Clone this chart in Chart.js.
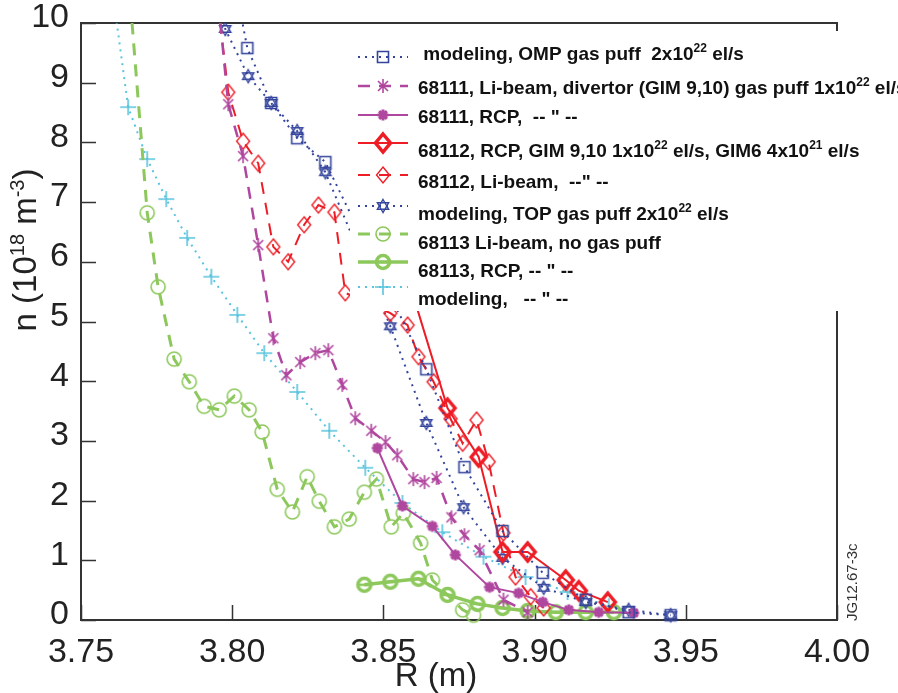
<!DOCTYPE html>
<html>
<head>
<meta charset="utf-8">
<script src="https://cdn.jsdelivr.net/npm/chart.js@4.4.0/dist/chart.umd.min.js"></script>
<style>
  body { margin: 0; background: #fff; }
  #wrap { width: 898px; height: 693px; }
</style>
</head>
<body>
<div id="wrap"><canvas id="chart" width="898" height="693"></canvas></div>
<script>
// R in m, n in 1e18 m^-3
const ompR = [3.8013, 3.8050, 3.8129, 3.8215, 3.8308, 3.8642, 3.8768, 3.8894, 3.9027, 3.9169, 3.9311, 3.9450];
const ompN = [10.55, 9.58, 8.66, 8.07, 7.67, 4.20, 2.56, 1.49, 0.79, 0.34, 0.13, 0.08];

const li111R = [3.7947, 3.7987, 3.8036, 3.8086, 3.8136, 3.8179, 3.8225, 3.8275, 3.8318, 3.8364, 3.8407,
  3.8460, 3.8507, 3.8546, 3.8599, 3.8636, 3.8676, 3.8725, 3.8768, 3.8818, 3.8897, 3.8977];
const li111N = [10.72, 8.64, 7.77, 6.28, 4.72, 4.10, 4.32, 4.47, 4.52, 3.94, 3.38,
  3.17, 2.98, 2.76, 2.36, 2.31, 2.38, 1.72, 1.42, 1.17, 0.34, 0.13];

const rcp111R = [3.8480, 3.8563, 3.8662, 3.8738, 3.8851, 3.8947, 3.9027, 3.9113, 3.9212, 3.9328];
const rcp111N = [2.88, 1.91, 1.57, 1.09, 0.55, 0.45, 0.30, 0.17, 0.13, 0.12];

const rcp112R = [3.8573, 3.8712, 3.8815, 3.8894, 3.8977, 3.9103, 3.9146, 3.9242];
const rcp112N = [5.86, 3.55, 2.73, 1.14, 1.14, 0.67, 0.49, 0.30];

const li112R = [3.7944, 3.7987, 3.8036, 3.8086, 3.8136, 3.8185, 3.8238, 3.8285, 3.8338, 3.8374, 3.8523,
  3.8580, 3.8616, 3.8666, 3.8722, 3.8762, 3.8808, 3.8848, 3.8897, 3.8937, 3.8987, 3.9030];
const li112N = [10.72, 8.84, 8.02, 7.65, 6.25, 6.00, 6.62, 6.95, 6.83, 5.48, 5.14,
  4.94, 4.41, 3.99, 3.37, 2.96, 3.35, 2.65, 1.46, 0.72, 0.39, 0.20];

const topR = [3.7944, 3.7977, 3.8053, 3.8129, 3.8215, 3.8308, 3.8523, 3.8642, 3.8765, 3.8894, 3.9030, 3.9169, 3.9311, 3.9450];
const topN = [10.72, 9.90, 9.11, 8.66, 8.19, 7.50, 4.92, 3.30, 1.89, 1.04, 0.54, 0.30, 0.17, 0.08];

const li113R = [3.7652, 3.7719, 3.7755, 3.7808, 3.7858, 3.7907, 3.7957, 3.8007, 3.8056, 3.8099, 3.8149, 3.8199,
  3.8248, 3.8288, 3.8338, 3.8387, 3.8437, 3.8477, 3.8526, 3.8566, 3.8623, 3.8662, 3.8762, 3.8798];
const li113N = [11.06, 6.82, 5.58, 4.37, 3.99, 3.58, 3.52, 3.75, 3.52, 3.15, 2.19, 1.81,
  2.40, 1.99, 1.56, 1.69, 2.14, 2.36, 1.56, 1.79, 1.29, 0.67, 0.17, 0.08];

const rcp113R = [3.8437, 3.8523, 3.8616, 3.8712, 3.8811, 3.8894, 3.8977, 3.9070, 3.9169, 3.9262];
const rcp113N = [0.59, 0.64, 0.69, 0.42, 0.27, 0.20, 0.15, 0.13, 0.13, 0.13];

const modR = [3.7599, 3.7656, 3.7719, 3.7782, 3.7851, 3.7931, 3.8017, 3.8106, 3.8215, 3.8321, 3.8440,
  3.8563, 3.8695, 3.8831, 3.8970, 3.9109, 3.9245];
const modN = [10.72, 8.59, 7.72, 7.05, 6.40, 5.75, 5.11, 4.47, 3.82, 3.17, 2.55,
  1.96, 1.47, 1.06, 0.72, 0.47, 0.23];

const seriesLabels = [
  " modeling, OMP gas puff  2x10^{22} el/s",
  "68111, Li-beam, divertor (GIM 9,10) gas puff 1x10^{22} el/s",
  "68111, RCP,  -- \" --",
  "68112, RCP, GIM 9,10 1x10^{22} el/s, GIM6 4x10^{21} el/s",
  "68112, Li-beam,  --\" --",
  "modeling, TOP gas puff 2x10^{22} el/s",
  "68113 Li-beam, no gas puff",
  "68113, RCP, -- \" --",
  "modeling,   -- \" --",
];

const xTickValues = [3.75, 3.80, 3.85, 3.90, 3.95, 4.00];
const yTickValues = [0, 1, 2, 3, 4, 5, 6, 7, 8, 9, 10];

const NAVY = "#34449c";
const MAGENTA = "#b0479f";
const RED = "#ee1c25";
const GREEN = "#8dc85c";
const CYAN = "#5ac3dd";
const FONT = '"Liberation Sans", Arial, sans-serif';

const toPoints = (xs, ys) => xs.map((x, i) => ({ x: x, y: ys[i] }));

// little canvases used as point styles
function makeMarker(kind, color, lw) {
  const s = 26;
  const c = document.createElement("canvas");
  c.width = s;
  c.height = s;
  const g = c.getContext("2d");
  const m = s / 2;
  g.strokeStyle = color;
  g.fillStyle = color;
  g.lineWidth = lw;
  g.lineJoin = "miter";
  g.beginPath();
  if (kind === "square") {
    g.rect(m - 5.5, m - 5.5, 11, 11);
  } else if (kind === "hexagram") {
    const r = 6.5;
    [[-90, 30, 150], [90, 210, 330]].forEach((tri) => {
      tri.forEach((a, i) => {
        const t = (a * Math.PI) / 180;
        const px = m + r * Math.cos(t);
        const py = m + r * Math.sin(t);
        if (i === 0) g.moveTo(px, py);
        else g.lineTo(px, py);
      });
      g.closePath();
    });
  } else if (kind === "xbar") {
    g.moveTo(m - 5, m - 5); g.lineTo(m + 5, m + 5);
    g.moveTo(m + 5, m - 5); g.lineTo(m - 5, m + 5);
    g.moveTo(m, m - 7); g.lineTo(m, m + 7);
  } else if (kind === "asterisk") {
    for (let k = 0; k < 4; k++) {
      const t = (k * Math.PI) / 4;
      g.moveTo(m - 5.5 * Math.cos(t), m - 5.5 * Math.sin(t));
      g.lineTo(m + 5.5 * Math.cos(t), m + 5.5 * Math.sin(t));
    }
  } else if (kind === "diamond") {
    g.moveTo(m, m - 8); g.lineTo(m + 6.5, m); g.lineTo(m, m + 8); g.lineTo(m - 6.5, m);
    g.closePath();
  } else if (kind === "bigdiamond") {
    g.moveTo(m, m - 9); g.lineTo(m + 7.5, m); g.lineTo(m, m + 9); g.lineTo(m - 7.5, m);
    g.closePath();
  } else if (kind === "circle") {
    g.arc(m, m, 7, 0, Math.PI * 2);
  } else if (kind === "circbar") {
    g.arc(m, m, 6.5, 0, Math.PI * 2);
    g.stroke();
    g.beginPath();
    g.lineWidth = 2.5;
    g.moveTo(m - 5, m); g.lineTo(m + 5, m);
  } else if (kind === "plus") {
    g.moveTo(m - 8, m); g.lineTo(m + 8, m);
    g.moveTo(m, m - 8); g.lineTo(m, m + 8);
  }
  g.stroke();
  return c;
}

const clipBox = { left: 12, top: 0, right: 12, bottom: 12 };

function series(label, xs, ys, color, width, dash, marker) {
  return {
    label: label,
    data: toPoints(xs, ys),
    showLine: true,
    borderColor: color,
    backgroundColor: color,
    borderWidth: width,
    borderDash: dash,
    borderCapStyle: "butt",
    pointStyle: marker,
    pointRadius: 7,
    tension: 0,
    clip: clipBox,
  };
}

const datasets = [
  series(seriesLabels[0], ompR, ompN, NAVY, 2, [2, 5], makeMarker("square", NAVY, 1.6)),
  series(seriesLabels[1], li111R, li111N, MAGENTA, 2.5, [12, 9], makeMarker("xbar", MAGENTA, 1.6)),
  series(seriesLabels[2], rcp111R, rcp111N, MAGENTA, 2, [], makeMarker("asterisk", MAGENTA, 3)),
  series(seriesLabels[3], rcp112R, rcp112N, RED, 2, [], makeMarker("bigdiamond", RED, 3.5)),
  series(seriesLabels[4], li112R, li112N, RED, 2, [12, 9], makeMarker("diamond", RED, 1.4)),
  series(seriesLabels[5], topR, topN, NAVY, 2, [2, 5], makeMarker("hexagram", NAVY, 1.4)),
  series(seriesLabels[6], li113R, li113N, GREEN, 3, [12, 9], makeMarker("circle", GREEN, 1.6)),
  series(seriesLabels[7], rcp113R, rcp113N, GREEN, 3.5, [], makeMarker("circbar", GREEN, 3.5)),
  series(seriesLabels[8], modR, modN, CYAN, 2, [2, 5], makeMarker("plus", CYAN, 1.6)),
];

// text with ^{...} superscripts
function richParts(str) {
  const parts = [];
  const re = /\^\{([^}]*)\}/g;
  let last = 0;
  let m;
  while ((m = re.exec(str)) !== null) {
    if (m.index > last) parts.push({ t: str.slice(last, m.index), sup: false });
    parts.push({ t: m[1], sup: true });
    last = re.lastIndex;
  }
  if (last < str.length) parts.push({ t: str.slice(last), sup: false });
  return parts;
}

function drawRich(ctx, str, x, y, font, supFont, raise, align) {
  const parts = richParts(str);
  let total = 0;
  parts.forEach((p) => {
    ctx.font = p.sup ? supFont : font;
    p.w = ctx.measureText(p.t).width;
    total += p.w;
  });
  let cx = align === "center" ? x - total / 2 : x;
  ctx.textAlign = "left";
  ctx.textBaseline = "alphabetic";
  parts.forEach((p) => {
    ctx.font = p.sup ? supFont : font;
    ctx.fillText(p.t, cx, p.sup ? y - raise : y);
    cx += p.w;
  });
}

const framePlugin = {
  id: "frame",
  beforeDatasetsDraw(chart) {
    const { ctx, chartArea: a, scales } = chart;
    ctx.save();
    ctx.strokeStyle = "#333";
    ctx.lineWidth = 2;
    ctx.beginPath();
    ctx.moveTo(a.left, a.top);
    ctx.lineTo(a.right, a.top);
    ctx.lineTo(a.right, a.bottom);
    ctx.stroke();
    ctx.lineWidth = 1.5;
    ctx.beginPath();
    yTickValues.forEach((v) => {
      const py = Math.round(scales.y.getPixelForValue(v)) + 0.5;
      ctx.moveTo(a.left, py);
      ctx.lineTo(a.left + 15, py);
    });
    xTickValues.forEach((v) => {
      const px = Math.round(scales.x.getPixelForValue(v)) + 0.5;
      ctx.moveTo(px, a.bottom);
      ctx.lineTo(px, a.bottom - 15);
    });
    ctx.stroke();
    ctx.restore();
  },
  afterDatasetsDraw(chart) {
    const { ctx } = chart;
    const rowText = [60, 94, 123, 157, 188, 220, 249, 277, 305];
    const rowLine = [57, 86, 115, 143, 175, 206, 234, 262, 287];
    ctx.save();
    ctx.fillStyle = "#fff";
    ctx.fillRect(350, 31, 548, 280);
    chart.data.datasets.forEach((ds, i) => {
      const y = rowLine[i];
      ctx.save();
      ctx.strokeStyle = ds.borderColor;
      ctx.lineWidth = ds.borderWidth;
      ctx.setLineDash(ds.borderDash);
      ctx.beginPath();
      ctx.moveTo(358, y);
      ctx.lineTo(408, y);
      ctx.stroke();
      ctx.restore();
      const img = ds.pointStyle;
      ctx.drawImage(img, 383 - img.width / 2, y - img.height / 2);
      ctx.fillStyle = "#111";
      drawRich(ctx, ds.label, 418, rowText[i], "bold 19px " + FONT, "bold 12px " + FONT, 8, "left");
    });
    ctx.restore();
  },
  afterDraw(chart) {
    const { ctx } = chart;
    ctx.save();
    ctx.fillStyle = "#222";
    drawRich(ctx, "R (m)", 436, 686, "33px " + FONT, "20px " + FONT, 12, "center");
    ctx.translate(36, 250);
    ctx.rotate(-Math.PI / 2);
    drawRich(ctx, "n (10^{18} m^{-3})", 0, 0, "33px " + FONT, "20px " + FONT, 12, "center");
    ctx.restore();
    ctx.save();
    ctx.fillStyle = "#333";
    ctx.translate(857, 621);
    ctx.rotate(-Math.PI / 2);
    ctx.font = "15px " + FONT;
    ctx.textAlign = "left";
    ctx.textBaseline = "alphabetic";
    ctx.fillText("JG12.67-3c", 0, 0);
    ctx.restore();
  },
};

const tickFont = { size: 34, family: FONT };

const noScalePadding = (s) => {
  s.paddingTop = 0;
  s.paddingBottom = 0;
  s.paddingLeft = 0;
  s.paddingRight = 0;
};

new Chart(document.getElementById("chart"), {
  type: "scatter",
  data: { datasets: datasets },
  options: {
    responsive: false,
    animation: false,
    devicePixelRatio: 1,
    layout: { padding: { left: 0, right: 61, top: 23, bottom: 0 } },
    plugins: {
      legend: { display: false },
      tooltip: { enabled: false },
    },
    scales: {
      x: {
        type: "linear",
        min: 3.75,
        max: 4.0,
        afterBuildTicks: (s) => {
          s.ticks = xTickValues.map((v) => ({ value: v }));
        },
        afterFit: (s) => {
          s.height = 73;
          noScalePadding(s);
        },
        ticks: {
          callback: (v) => Number(v).toFixed(2),
          font: tickFont,
          color: "#222",
          padding: 12,
          maxRotation: 0,
          autoSkip: false,
        },
        grid: { display: false, drawTicks: false },
        border: { display: true, color: "#333", width: 2 },
      },
      y: {
        type: "linear",
        min: 0,
        max: 10,
        afterBuildTicks: (s) => {
          s.ticks = yTickValues.map((v) => ({ value: v }));
        },
        afterFit: (s) => {
          s.width = 81;
          noScalePadding(s);
        },
        ticks: {
          font: tickFont,
          color: "#222",
          padding: 12,
          labelOffset: -5,
          autoSkip: false,
        },
        grid: { display: false, drawTicks: false },
        border: { display: true, color: "#333", width: 2 },
      },
    },
  },
  plugins: [framePlugin],
});
</script>
</body>
</html>
